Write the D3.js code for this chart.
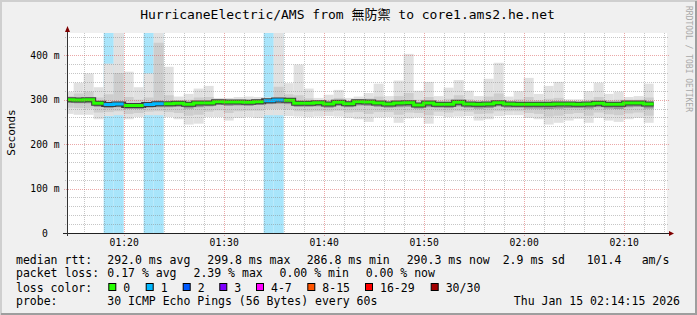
<!DOCTYPE html>
<html>
<head>
<meta charset="utf-8">
<script src="https://cdn.jsdelivr.net/npm/d3@7"></script>
<style>
body { margin: 0; background: #f0f0f0; }
svg { display: block; font-family: "DejaVu Sans Mono", "Noto Sans CJK TC", monospace; }
text { white-space: pre; }
</style>
</head>
<body>
<svg class="chart"></svg>
<script>
// one step per minute, 01:14 .. 02:12
let stepTimes = ['01:14','01:15','01:16','01:17','01:18','01:19','01:20','01:21','01:22','01:23',
  '01:24','01:25','01:26','01:27','01:28','01:29','01:30','01:31','01:32','01:33',
  '01:34','01:35','01:36','01:37','01:38','01:39','01:40','01:41','01:42','01:43',
  '01:44','01:45','01:46','01:47','01:48','01:49','01:50','01:51','01:52','01:53',
  '01:54','01:55','01:56','01:57','01:58','01:59','02:00','02:01','02:02','02:03',
  '02:04','02:05','02:06','02:07','02:08','02:09','02:10','02:11','02:12'];

// rtt in ms
let medianRtt = [300,299.5,299.8,292,289,290,286.8,287,289,291, 291,292,289.5,292.5,292.5,295.5,295,294.5,294,295.5,
  297.5,299.5,298.5,292,292,293,290,294,291,295.5, 295,292.5,290,292.5,293,288,292.5,289.5,289.5,294,
  290,289.5,290,293,290,289.5,289.5,289.5,289.5,290, 290,289.5,290,292,289.5,289.5,292.5,292.5,290.3];
let maxRtt = [318,338,359,328,381,470,363,328,359,470, 374,307,313,325,331,304,304,306,307,306,
  305,470,337,379,325,304,311,322,304,307, 315,336,308,343,403,320,340,308,327,344,
  320,308,347,383,307,319,349,313,331,340, 301,301,319,338,313,318,306,308,336];
let p90Rtt = [308,314,318,305,312,360,306,300,305,428, 310,299,300,305,306,300,300,300,300,301,
  302,329,312,310,303,299,300,304,298,301, 303,307,298,308,315,300,306,298,302,310,
  301,298,307,314,298,301,306,299,302,304, 296,296,300,306,299,300,300,300,305];
let p75Rtt = [303,303,304,296,293,296,291,291,293,298, 295,295,293,296,296,298,298,297,297,298,
  300,304,302,296,295,296,293,297,294,298, 298,296,293,296,297,291,296,292,293,297,
  293,292,293,297,293,292,293,292,293,293, 293,292,293,295,292,292,295,295,293];
let p25Rtt = [293,292,292,284,281,283,279,279,282,283, 283,284,280,283,285,288,286,287,286,288,
  290,291,290,284,284,285,282,286,283,287, 286,284,282,283,284,280,283,282,281,285,
  282,280,281,285,282,282,280,280,279,280, 281,281,280,283,280,279,283,284,280];
let p10Rtt = [282,281,280,271,272,274,268,270,273,274, 272,270,264,266,273,276,270,274,275,275,
  279,279,278,274,273,274,273,275,271,272, 268,272,272,266,271,270,265,273,271,274,
  273,268,269,274,274,274,270,268,262,264, 268,270,264,271,267,265,269,271,264];
let minRtt = [268,266,266,256,263,265,256,261,265,265, 261,256,244,246,261,261,253,259,261,259,
  265,265,263,262,261,262,263,262,259,256, 250,260,261,248,258,260,246,263,261,262,
  263,253,256,263,265,265,259,256,244,248, 253,257,248,259,253,250,256,259,248];
// packet loss in %
let lossPct = [0,0,0,0,2.39,0.94,0,0,1.56,1.78, 0,0,0,0,0,0,0,0,0,0,
  1.1,2.0,0,0,0,0,0,0,0,0, 0,0,0,0,0,0,0,0,0,0,
  0,0,0,0,0,0,0,0,0,0, 0,0,0,0,0,0,0,0,0];

let yTicks = [0, 100, 200, 300, 400];
let lossLabels = ['0','1','2','3','4-7','8-15','16-29','30/30'];
let lossUpper = [0, 1, 2, 3, 7, 15, 29, 30];
let lossColors = ['#26ff00','#00b8ff','#0059ff','#7e00ff','#ff00ff','#ff5500','#ff0000','#a10000'];

let rttStats = ['292.0 ms avg','299.8 ms max','286.8 ms min','290.3 ms now','2.9 ms sd','101.4','am/s'];
let lossStats = ['0.17 % avg','2.39 % max','0.00 % min','0.00 % now'];

//basic graph info
let svg_width = 697, svg_height = 315;
let plot_left = 67, plot_right = 667, plot_top = 33, plot_bottom = 233;

let svg = d3.select('.chart')
  .attr('width', svg_width)
  .attr('height', svg_height);

let day = (h, m, s) => new Date(Date.UTC(2026, 0, 15, h, m, s || 0));
let parseStep = s => day(+s.slice(0, 2), +s.slice(3));

let scaleX = d3.scaleUtc()
  .domain([day(1, 14, 20), day(2, 14, 20)])
  .range([plot_left, plot_right]);

let scaleY = d3.scaleLinear()
  .domain([0, 450])
  .range([plot_bottom, plot_top]);

let steps = stepTimes.map((t, i) => ({
  t0: parseStep(t),
  t1: d3.utcMinute.offset(parseStep(t), 1),
  med: medianRtt[i], max: maxRtt[i], p90: p90Rtt[i], p75: p75Rtt[i],
  p25: p25Rtt[i], p10: p10Rtt[i], min: minRtt[i], loss: lossPct[i]
}));

let lossClass = pct => {
  let n = Math.ceil(pct / 100 * 30 - 1e-9);
  return lossUpper.findIndex(u => n <= u);
};

// frame
svg.append('rect').attr('width', svg_width).attr('height', svg_height).attr('fill', '#f0f0f0');
svg.append('path').attr('d', `M1,${svg_height} V1 H${svg_width}`).attr('stroke', '#cfcfcf').attr('stroke-width', 2).attr('fill', 'none');
svg.append('path').attr('d', `M1,${svg_height - 1} H${svg_width - 1} V1`).attr('stroke', '#9e9e9e').attr('stroke-width', 2).attr('fill', 'none');

svg.append('rect')
  .attr('x', plot_left).attr('y', plot_top)
  .attr('width', plot_right - plot_left).attr('height', plot_bottom - plot_top)
  .attr('fill', '#ffffff');

svg.append('clipPath').attr('id', 'plotclip')
  .append('rect')
  .attr('x', plot_left).attr('y', plot_top)
  .attr('width', plot_right - plot_left).attr('height', plot_bottom - plot_top);

let plot = svg.append('g').attr('clip-path', 'url(#plotclip)');

// loss background
plot.selectAll('.lossband')
  .data(steps.filter(d => d.loss > 0))
  .enter()
  .append('rect')
  .attr('class', 'lossband')
  .attr('x', d => scaleX(d.t0))
  .attr('width', d => scaleX(d.t1) - scaleX(d.t0))
  .attr('y', plot_top)
  .attr('height', plot_bottom - plot_top)
  .attr('fill', '#a8e5fb');

// smoke
let layers = [
  ['min', 'max', '#e1e1e1'],
  ['p10', 'p90', '#cdcdcd'],
  ['p25', 'p75', '#969696']
];
layers.forEach(([lo, hi, col], k) => {
  plot.selectAll('.smoke' + k)
    .data(steps)
    .enter()
    .append('rect')
    .attr('class', 'smoke' + k)
    .attr('x', d => scaleX(d.t0))
    .attr('width', d => scaleX(d.t1) - scaleX(d.t0))
    .attr('y', d => scaleY(d[hi]))
    .attr('height', d => scaleY(d[lo]) - scaleY(d[hi]))
    .attr('fill', col);
});

// grid
let grid = svg.append('g').attr('fill', 'none').attr('stroke-width', 1);
let minorX = scaleX.ticks(d3.utcMinute.every(2)).filter(d => d.getUTCMinutes() % 10 != 0);
let majorX = scaleX.ticks(d3.utcMinute.every(10));
let minorY = d3.range(20, 451, 20).filter(v => v % 100 != 0);

grid.selectAll('.gx')
  .data(minorX).enter().append('line')
  .attr('x1', d => Math.round(scaleX(d)) + 0.5).attr('x2', d => Math.round(scaleX(d)) + 0.5)
  .attr('y1', plot_top).attr('y2', plot_bottom + 2)
  .attr('stroke', 'rgba(128,128,128,0.45)').attr('stroke-dasharray', '1,1');
grid.selectAll('.gy')
  .data(minorY).enter().append('line')
  .attr('y1', d => Math.round(scaleY(d)) + 0.5).attr('y2', d => Math.round(scaleY(d)) + 0.5)
  .attr('x1', plot_left - 2).attr('x2', plot_right + 2)
  .attr('stroke', 'rgba(128,128,128,0.45)').attr('stroke-dasharray', '1,1');
grid.selectAll('.mx')
  .data(majorX).enter().append('line')
  .attr('x1', d => Math.round(scaleX(d)) + 0.5).attr('x2', d => Math.round(scaleX(d)) + 0.5)
  .attr('y1', plot_top).attr('y2', plot_bottom + 3)
  .attr('stroke', 'rgba(215,80,80,0.5)').attr('stroke-dasharray', '1,1');
grid.selectAll('.my')
  .data(yTicks.slice(1)).enter().append('line')
  .attr('y1', d => Math.round(scaleY(d)) + 0.5).attr('y2', d => Math.round(scaleY(d)) + 0.5)
  .attr('x1', plot_left - 3).attr('x2', plot_right + 2)
  .attr('stroke', 'rgba(215,80,80,0.5)').attr('stroke-dasharray', '1,1');

// median line, coloured by loss
let medPts = [];
steps.forEach(d => {
  medPts.push({t: d.t0, v: d.med, c: lossClass(d.loss)});
  medPts.push({t: d.t1, v: d.med, c: lossClass(d.loss)});
});
let medLine = d3.line().x(p => scaleX(p.t)).y(p => scaleY(p.v));

plot.append('path')
  .attr('d', medLine(medPts))
  .attr('fill', 'none').attr('stroke', '#3c3c3c').attr('stroke-width', 5);

lossColors.forEach((col, c) => {
  if (!medPts.some(p => p.c == c)) return;
  plot.append('path')
    .attr('d', medLine.defined(p => p.c == c)(medPts))
    .attr('fill', 'none').attr('stroke', col).attr('stroke-width', 3);
});
medLine.defined(() => true);

// axes
svg.append('line')
  .attr('x1', plot_left - 4).attr('x2', plot_right + 3)
  .attr('y1', plot_bottom + 0.5).attr('y2', plot_bottom + 0.5)
  .attr('stroke', '#222');
svg.append('line')
  .attr('x1', plot_left + 0.5).attr('x2', plot_left + 0.5)
  .attr('y1', plot_bottom + 3).attr('y2', plot_top - 2)
  .attr('stroke', '#333');
svg.append('path').attr('d', `M${plot_left - 2},${plot_top - 1} L${plot_left + 3},${plot_top - 1} L${plot_left + 0.5},${plot_top - 7} Z`).attr('fill', '#7f0000');
svg.append('path').attr('d', `M${plot_right + 2},${plot_bottom - 2} L${plot_right + 2},${plot_bottom + 3} L${plot_right + 7},${plot_bottom + 0.5} Z`).attr('fill', '#7f0000');

let axisX = d3.axisBottom(scaleX)
  .ticks(d3.utcMinute.every(10))
  .tickFormat(d3.utcFormat('%H:%M'))
  .tickSize(3)
  .tickPadding(3.5);
svg.append('g')
  .attr('transform', translate(0, plot_bottom))
  .call(axisX)
  .call(g => g.select('.domain').remove())
  .call(g => g.selectAll('.tick line').remove())
  .call(g => g.selectAll('text').attr('font-size', 9.7).attr('fill', '#000'))
  .attr('font-family', null);

let axisY = d3.axisLeft(scaleY)
  .tickValues(yTicks)
  .tickFormat(d => d ? d + ' m' : '0  ')
  .tickSize(3)
  .tickPadding(4.5);
svg.append('g')
  .attr('transform', translate(plot_left, 0))
  .call(axisY)
  .call(g => g.select('.domain').remove())
  .call(g => g.selectAll('.tick line').remove())
  .call(g => g.selectAll('text').attr('font-size', 9.7).attr('fill', '#000'))
  .attr('font-family', null);

// titles
svg.append('text')
  .attr('x', 347.5).attr('y', 19)
  .attr('text-anchor', 'middle')
  .attr('font-size', 13)
  .text('HurricaneElectric/AMS from 無防禦 to core1.ams2.he.net');

svg.append('text')
  .attr('transform', translate(14.5, 132.5) + ' rotate(-90)')
  .attr('text-anchor', 'middle')
  .attr('font-size', 11)
  .text('Seconds');

svg.append('text')
  .attr('transform', translate(685.5, 59) + ' rotate(90)')
  .attr('text-anchor', 'middle')
  .attr('font-size', 8)
  .attr('fill', '#a8a8a8')
  .text('RRDTOOL / TOBI OETIKER');

// legend
let legend = svg.append('g').attr('font-size', 11.5);
let row = (txt, x, yy, anchor) => legend.append('text')
  .attr('x', x).attr('y', yy).attr('text-anchor', anchor || 'start').text(txt);

row('median rtt:', 16, 263.5);
[107.3, 207.3, 306.7, 406.7, 502.7, 586.7, 641.7].forEach((x, i) => row(rttStats[i], x, 263.5));
row('packet loss:', 16, 277.3);
[107.3, 193.5, 279.6, 365.7].forEach((x, i) => row(lossStats[i], x, 277.3));
row('loss color:', 16, 291.5);
let boxX = [108.3, 145.7, 182.7, 219.3, 256, 307.3, 365, 430.7];
lossLabels.forEach((lab, i) => {
  legend.append('rect')
    .attr('x', boxX[i] + 0.5).attr('y', 283.5)
    .attr('width', 7).attr('height', 7)
    .attr('fill', lossColors[i]).attr('stroke', '#000');
  row(lab, boxX[i] + 15, 291.5);
});
row('probe:', 16, 305);
row('30 ICMP Echo Pings (56 Bytes) every 60s', 107.3, 305);
row('Thu Jan 15 02:14:15 2026', 680, 305, 'end');

function translate(x, y) {
  return 'translate(' + x + ',' + y + ')';
}
</script>
</body>
</html>
